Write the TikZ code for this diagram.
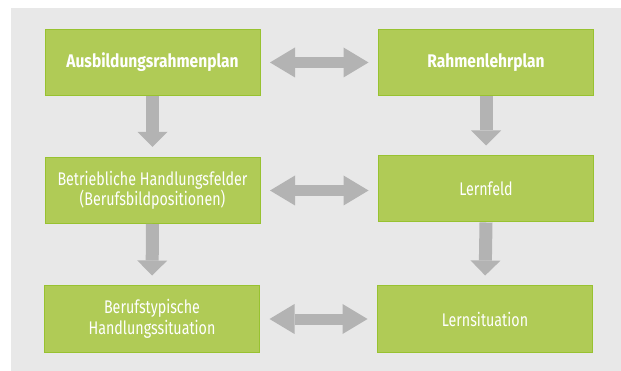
\documentclass[tikz,border=0pt]{standalone}
\usepackage{fontspec}
\setmainfont{Fira Sans}[FakeStretch=0.78, BoldFeatures={FakeStretch=0.85}]
\usetikzlibrary{arrows.meta}
\definecolor{feldgruen}{RGB}{176,203,86}
\definecolor{randgruen}{RGB}{152,194,48}
\definecolor{pfeilgrau}{RGB}{179,179,179}
\definecolor{grundgrau}{RGB}{232,232,232}

\tikzset{
  feld/.style={draw=randgruen, line width=1pt, fill=feldgruen, text=white,
    minimum width=215pt, minimum height=66pt, inner sep=0pt, align=center,
    font=\fontsize{18.3}{20.5}\selectfont},
  kopffeld/.style={feld, font=\fontsize{18.3}{20.5}\selectfont\bfseries},
  runter/.style={pfeilgrau, line width=13pt,
    -{Triangle[width=30pt,length=15pt,line width=0pt]}, shorten >=10pt},
  beidseitig/.style={pfeilgrau, line width=11pt,
    {Triangle[width=30pt,length=25pt,line width=0pt]}-{Triangle[width=30pt,length=25pt,line width=0pt]},
    shorten <=9.5pt, shorten >=9.5pt}
}

\begin{document}
\begin{tikzpicture}[x=1pt, y=-1pt]
    \useasboundingbox (0,0) rectangle (621,371);
    % Grey background
    \fill[grundgrau] (11,8) rectangle (621,371);

    % Top row
    \node[kopffeld] (arp) at (152.5,62.5) {Ausbildungsrahmenplan};
    \node[kopffeld] (rlp) at (486,62.5) {Rahmenlehrplan};

    % Middle row
    \node[feld] (bhf) at (152.5,190.5) {Betriebliche Handlungsfelder\\(Berufsbildpositionen)};
    \node[feld] (lf) at (486,189) {Lernfeld};

    % Bottom row
    \node[feld] (bhs) at (152,319) {Berufstypische\\Handlungssituation};
    \node[feld] (ls) at (485,319) {Lernsituation};

    % Arrows down
    \draw[runter] (arp.south) -- (bhf.north);
    \draw[runter] (rlp.south) -- (lf.north);
    \draw[runter] (bhf.south) -- (bhs.north);
    \draw[runter] (lf.south) -- (ls.north);

    % Arrows across
    \draw[beidseitig] (arp.east) -- (rlp.west);
    \draw[beidseitig] (bhf.east) -- (bhf.east -| lf.west);
    \draw[beidseitig] (bhs.east) -- (ls.west);
\end{tikzpicture}
\end{document}
